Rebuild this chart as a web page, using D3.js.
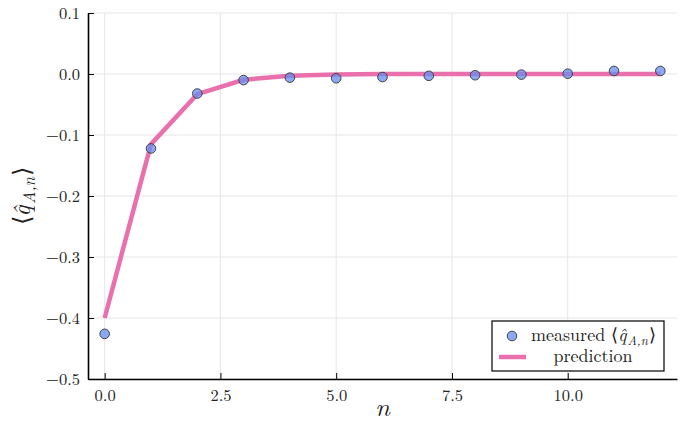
<!DOCTYPE html>
<html>
<head>
<meta charset="utf-8">
<script src="https://cdn.jsdelivr.net/npm/d3@7"></script>
<style>
  body { margin: 0; background: #fff; }
</style>
</head>
<body>
<div id="chart"></div>
<script>
const nValues = [0, 1, 2, 3, 4, 5, 6, 7, 8, 9, 10, 11, 12];
const measured = [-0.426, -0.122, -0.032, -0.010, -0.006, -0.007, -0.005, -0.003, -0.002, -0.001, 0.0005, 0.005, 0.005];
const predicted = [-0.400, -0.115, -0.033, -0.0095, -0.0027, -0.0008, -0.0002, -0.0001, 0, 0, 0, 0, 0];
const xTicks = [0, 2.5, 5, 7.5, 10];
const yTicks = [0.1, 0.0, -0.1, -0.2, -0.3, -0.4, -0.5];

const FONT = '"Latin Modern Roman", "Liberation Serif", serif';
const POINT_FILL = "rgba(100,140,240,0.75)";
const LINE_COLOR = "#e96fad";
const width = 683, height = 425;
const margin = { top: 13, right: 6, bottom: 46, left: 88 };

const svg = d3.select("#chart").append("svg")
    .attr("width", width)
    .attr("height", height);

const x = d3.scaleLinear()
    .domain([-0.36, 12.36])
    .range([margin.left, width - margin.right]);

const y = d3.scaleLinear()
    .domain([-0.5, 0.1])
    .range([height - margin.bottom, margin.top]);

// grid
svg.append("g").selectAll("line")
    .data(xTicks)
    .enter().append("line")
    .attr("x1", d => x(d)).attr("x2", d => x(d))
    .attr("y1", y(-0.5)).attr("y2", y(0.1))
    .attr("stroke", "#e6e6e6").attr("stroke-width", 1);

svg.append("g").selectAll("line")
    .data(yTicks)
    .enter().append("line")
    .attr("x1", margin.left).attr("x2", width - margin.right)
    .attr("y1", d => y(d)).attr("y2", d => y(d))
    .attr("stroke", "#e6e6e6").attr("stroke-width", 1);

// axes (ticks point inward)
const fmt = d => d3.format(".1f")(d).replace("-", "\u2212");

const xAxis = svg.append("g")
    .attr("transform", `translate(0,${y(-0.5)})`)
    .call(d3.axisBottom(x).tickValues(xTicks).tickFormat(fmt).tickSizeInner(-6).tickSizeOuter(0).tickPadding(10));

const yAxis = svg.append("g")
    .attr("transform", `translate(${margin.left},0)`)
    .call(d3.axisLeft(y).tickValues(yTicks).tickFormat(fmt).tickSizeInner(-6).tickSizeOuter(0).tickPadding(8));

[xAxis, yAxis].forEach(a => {
    a.select(".domain").attr("stroke", "#000").attr("stroke-width", 1.6);
    a.selectAll(".tick line").attr("stroke", "#000").attr("stroke-width", 1);
    a.selectAll(".tick text")
        .style("font-family", FONT)
        .style("font-size", "16.5px")
        .style("fill", "#222");
});

// prediction line
const line = d3.line()
    .x((d, i) => x(nValues[i]))
    .y(d => y(d));

svg.append("path")
    .datum(predicted)
    .attr("fill", "none")
    .attr("stroke", LINE_COLOR)
    .attr("stroke-width", 4.5)
    .attr("d", line);

// measured points
svg.append("g").selectAll("circle")
    .data(measured)
    .enter().append("circle")
    .attr("cx", (d, i) => x(nValues[i]))
    .attr("cy", d => y(d))
    .attr("r", 4.8)
    .attr("fill", POINT_FILL)
    .attr("stroke", "#444")
    .attr("stroke-width", 1);

// axis labels
svg.append("text")
    .attr("x", (x(-0.36) + x(12.36)) / 2)
    .attr("y", 416)
    .attr("text-anchor", "middle")
    .style("font-family", FONT)
    .style("font-size", "26px")
    .style("font-style", "italic")
    .style("fill", "#222")
    .text("n");

// <q^_{A,n}> built from tspans
function qLabel(sel, size) {
    sel.append("tspan").text("\u27E8");
    sel.append("tspan").style("font-style", "italic").text("q\u0302");
    sel.append("tspan").style("font-style", "italic").style("font-size", (size * 0.7) + "px")
        .attr("dx", size * 0.06).attr("dy", size * 0.22).text("A,n");
    sel.append("tspan").attr("dx", size * 0.06).attr("dy", -size * 0.22).text("\u27E9");
}

const yl = svg.append("text")
    .attr("transform", `translate(30,${(y(-0.5) + y(0.1)) / 2}) rotate(-90)`)
    .attr("text-anchor", "middle")
    .style("font-family", FONT)
    .style("font-size", "24px")
    .style("fill", "#222");
qLabel(yl, 24);

// legend
const lg = svg.append("g").attr("transform", "translate(492,321)");
lg.append("rect")
    .attr("width", 172).attr("height", 50)
    .attr("fill", "#fff").attr("stroke", "#000").attr("stroke-width", 1.2);
lg.append("circle")
    .attr("cx", 20).attr("cy", 15).attr("r", 4.8)
    .attr("fill", POINT_FILL).attr("stroke", "#444").attr("stroke-width", 1);
lg.append("line")
    .attr("x1", 7).attr("x2", 34).attr("y1", 36).attr("y2", 36)
    .attr("stroke", LINE_COLOR).attr("stroke-width", 4.5);
const lt = lg.append("text").attr("x", 39).attr("y", 20)
    .style("font-family", FONT).style("font-size", "18px").style("fill", "#222");
lt.append("tspan").text("measured ");
qLabel(lt, 18);
lg.append("text").attr("x", 101).attr("y", 41)
    .style("font-family", FONT).style("font-size", "18px").style("fill", "#222")
    .attr("text-anchor", "middle").text("prediction");
</script>
</body>
</html>
